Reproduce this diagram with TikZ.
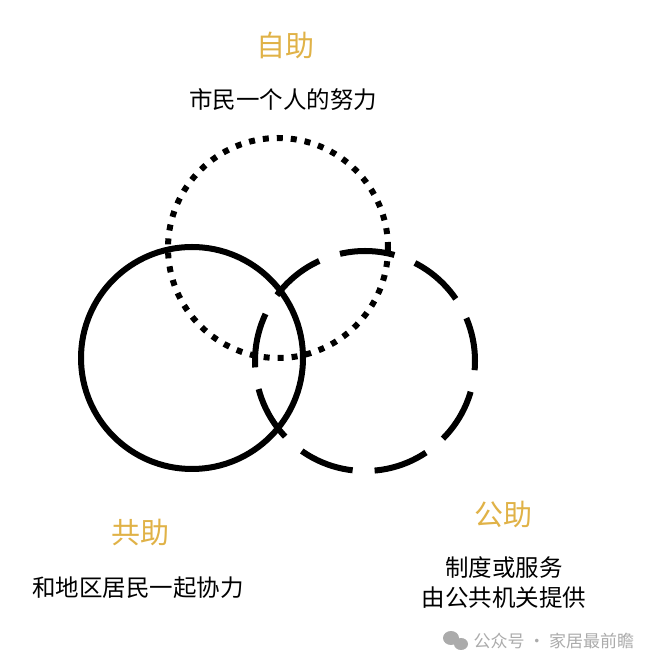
\documentclass[tikz,border=0pt]{standalone}
\usepackage{fontspec}
\setmainfont{Noto Sans CJK SC}
\usepackage{tikz}
\usetikzlibrary{calc}
\definecolor{gold}{HTML}{E0B247}
\definecolor{wmgray}{HTML}{ABABAB}
\tikzset{
  ring/.style={line width=6pt},
  dotring/.style={ring, dash pattern=on 6pt off 8pt},
  dashring/.style={ring, dash pattern=on 55pt off 22pt, dash phase=11pt},
  title/.style={text=gold, font=\fontsize{29pt}{32pt}\selectfont},
  body/.style={font=\fontsize{23.5pt}{30pt}\selectfont, align=center}
}

\begin{document}
\begin{tikzpicture}[x=1pt,y=1pt]
\useasboundingbox (0,0) rectangle (650,669);
% circle centres
\coordinate (self) at (278,421);
\coordinate (mutual) at (192,311);
\coordinate (public) at (365,308);
\draw[dotring] (self) circle (110);
\draw[ring] (mutual) circle (111);
\draw[dashring] (public) circle (110);
% labels
\node[title] (selfT) at (285,624) {自助};
\node[body] (selfB) at (283,569) {市民一个人的努力};
\node[title] (mutualT) at (140,136) {共助};
\node[body] (mutualB) at (138,81) {和地区居民一起协力};
\node[title] (publicT) at (503,154) {公助};
\node[body, inner sep=0pt] (publicB) at (504,86) {制度或服务\\由公共机关提供};
% watermark
\fill[wmgray] (451,31) ellipse (8 and 7);
\fill[wmgray] (461,25) ellipse (7 and 6);
\node[text=wmgray, font=\fontsize{17pt}{20pt}\selectfont, anchor=west] (mark) at (470,28) {公众号 · 家居最前瞻};
\end{tikzpicture}
\end{document}
